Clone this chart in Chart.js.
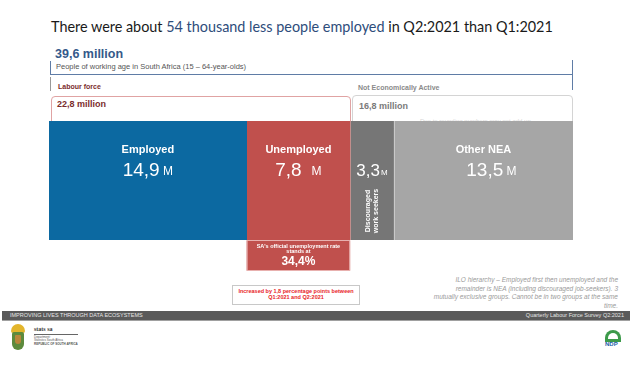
<!DOCTYPE html>
<html>
<head>
<meta charset="utf-8">
<script src="https://cdn.jsdelivr.net/npm/chart.js@4.4.1/dist/chart.umd.min.js"></script>
<style>
  html, body { margin: 0; padding: 0; background: #fff; }
  #slide { position: relative; width: 632px; height: 372px; overflow: hidden; font-family: "Liberation Sans", Arial, sans-serif; }
  #slide div { position: absolute; white-space: nowrap; }
  #chart { position: absolute; left: 0; top: 0; z-index: 5; pointer-events: none; }
  .ln { background: #5f7ca6; }
</style>
</head>
<body>
<div id="slide">
  <div style="left:51px;top:19px;font:14.4px Lato, sans-serif;line-height:16px;color:#1a1a1a;">There were about <span style="color:#2e4d7b">54 thousand less people employed</span> in Q2:2021 than Q1:2021</div>

  <div id="totalLabel" style="left:55px;top:47px;font:bold 12.5px 'Liberation Sans';line-height:14px;color:#35598a;"></div>
  <div style="left:56px;top:62px;font:7.5px 'Liberation Sans';line-height:9px;color:#555;">People of working age in South Africa (15 – 64-year-olds)</div>

  <div class="ln" style="left:50px;top:61px;width:1px;height:14px;"></div>
  <div class="ln" style="left:50px;top:74px;width:523px;height:1px;"></div>
  <div class="ln" style="left:572px;top:60px;width:1px;height:30px;"></div>
  <div style="left:50px;top:77px;width:1px;height:14px;background:#999;"></div>

  <div style="left:58px;top:82px;font:bold 7px 'Liberation Sans';line-height:9px;color:#7b2c2c;">Labour force</div>
  <div style="left:358px;top:83px;font:bold 7px 'Liberation Sans';line-height:9px;color:#8a8a8a;">Not Economically Active</div>

  <div style="left:51px;top:96px;width:298px;height:32px;border:1px solid #e0a3a3;border-radius:4px;"></div>
  <div style="left:352px;top:95px;width:219px;height:32px;border:1px solid #d4d4d4;border-radius:4px;"></div>
  <div id="lfLabel" style="left:57px;top:99px;font:bold 9px 'Liberation Sans';line-height:11px;color:#7b2c2c;"></div>
  <div id="neaLabel" style="left:359px;top:101px;font:bold 9px 'Liberation Sans';line-height:11px;color:#7a7a7a;"></div>
  <div style="left:420px;top:117px;font:6px 'Liberation Sans';line-height:8px;color:#d6d6d6;">Due to rounding numbers may not add up</div>

  <div id="changeBox" style="left:232px;top:285px;width:126px;height:16px;border:1px solid #c8c8c8;text-align:center;font:bold 5.5px 'Liberation Sans';line-height:6px;color:#e8231f;padding-top:2px;"></div>

  <div style="right:14px;top:276px;text-align:right;font:italic 6.5px 'Liberation Sans';line-height:8.6px;color:#9a9a9a;">ILO hierarchy – Employed first then unemployed and the<br>remainder is NEA (including discouraged job-seekers). 3<br>mutually exclusive groups. Cannot be in two groups at the same<br>time.</div>

  <div style="left:2px;top:311px;width:628px;height:9px;background:#5a5a5a;border-bottom:1px solid #a0a0a0;"></div>
  <div style="left:10px;top:311px;font:5.5px 'Liberation Sans';line-height:9px;color:#e6e6e6;">IMPROVING LIVES THROUGH DATA ECOSYSTEMS</div>
  <div style="right:8px;top:311px;font:5.5px 'Liberation Sans';line-height:9px;color:#e6e6e6;">Quarterly Labour Force Survey Q2:2021</div>

  <div style="left:11px;top:324px;width:14px;height:9px;border-radius:7px 7px 2px 2px;background:#e3b52c;"></div>
  <div style="left:12px;top:332px;width:12px;height:18px;border-radius:2px 2px 6px 6px;background:#5d8a3c;"></div>
  <div style="left:15px;top:335px;width:6px;height:9px;border-radius:1px 1px 3px 3px;background:#b8863b;"></div>
  <div style="left:34px;top:326px;font:bold 6px 'Liberation Serif';line-height:7px;color:#333;">stats sa</div>
  <div style="left:34px;top:334px;width:44px;height:1px;background:#666;"></div>
  <div style="left:34px;top:336px;font:3px 'Liberation Sans';line-height:3.4px;color:#555;">Department:<br>Statistics South Africa<br><b>REPUBLIC OF SOUTH AFRICA</b></div>

  <div style="left:605px;top:330px;width:16px;height:12px;border-radius:8px 8px 0 0;background:#3c9a4a;"></div>
  <div style="left:608px;top:333px;width:10px;height:6px;border-radius:5px 5px 0 0;background:#fff;"></div>
  <div style="left:605px;top:341px;font:bold 6px 'Liberation Sans';line-height:7px;color:#1b5ea8;">NDP</div>

  <canvas id="chart" width="632" height="372"></canvas>
</div>
<script>
// Q2:2021 labour market, millions
const categories = ['Employed', 'Unemployed', 'Discouraged work seekers', 'Other NEA'];
const valuesM = [14.9, 7.8, 3.3, 13.5];
const workingAgeM = 39.6;
const labourForceM = 22.8;
const neaM = 16.8;
const unemploymentRate = 34.4;
const rateChangePts = 1.8;
const quarters = ['Q1:2021', 'Q2:2021'];

const barColors = ['#0c69a1', '#c0504d', '#767676', '#a6a6a6'];

function fmt(v) {
  return v.toFixed(1).replace('.', ',');
}

document.getElementById('totalLabel').textContent = fmt(workingAgeM) + ' million';
document.getElementById('lfLabel').textContent = fmt(labourForceM) + ' million';
document.getElementById('neaLabel').textContent = fmt(neaM) + ' million';
document.getElementById('changeBox').innerHTML =
  `Increased by ${fmt(rateChangePts)} percentage points between<br>${quarters[0]} and ${quarters[1]}`;

const barLabels = {
  id: 'barLabels',
  afterDatasetsDraw(chart) {
    const ctx = chart.ctx;
    ctx.save();
    ctx.fillStyle = '#fff';
    ctx.textBaseline = 'middle';
    chart.data.datasets.forEach((ds, i) => {
      const el = chart.getDatasetMeta(i).data[0];
      const p = el.getProps(['x', 'base', 'y', 'height'], true);
      const cx = (p.x + p.base) / 2;
      const top = p.y - p.height / 2;
      const val = fmt(ds.data[0]);
      if (i === 2) {
        // narrow bar: value plus rotated name
        ctx.font = '17px "Liberation Sans"';
        const w1 = ctx.measureText(val).width;
        ctx.font = '8px "Liberation Sans"';
        const w2 = ctx.measureText('M').width;
        let x0 = cx - (w1 + w2 + 1) / 2;
        ctx.textAlign = 'left';
        ctx.font = '17px "Liberation Sans"';
        ctx.fillText(val, x0, top + 50);
        ctx.font = '8px "Liberation Sans"';
        ctx.fillText('M', x0 + w1 + 1, top + 52);
        ctx.translate(cx, top + 90);
        ctx.rotate(-Math.PI / 2);
        ctx.textAlign = 'center';
        ctx.font = 'bold 7px "Liberation Sans"';
        ctx.fillText('Discouraged', 0, -4);
        ctx.fillText('work seekers', 0, 4);
        ctx.setTransform(1, 0, 0, 1, 0, 0);
        return;
      }
      ctx.textAlign = 'center';
      ctx.font = 'bold 11px "Liberation Sans"';
      ctx.fillText(ds.label, cx, top + 29);
      const gap = i === 1 ? '   ' : ' ';
      ctx.font = '19px "Liberation Sans"';
      const w1 = ctx.measureText(val).width;
      ctx.font = '12px "Liberation Sans"';
      const w2 = ctx.measureText(gap + 'M').width;
      const x0 = cx + (i === 3 ? 8 : 0) - (w1 + w2) / 2;
      ctx.textAlign = 'left';
      ctx.font = '19px "Liberation Sans"';
      ctx.fillText(val, x0, top + 50);
      ctx.font = '12px "Liberation Sans"';
      ctx.fillText(gap + 'M', x0 + w1, top + 51);
    });

    // unemployment rate box hanging under the Unemployed bar
    const u = chart.getDatasetMeta(1).data[0].getProps(['x', 'base', 'y', 'height'], true);
    const bx = u.base, bw = u.x - u.base, by = u.y + u.height / 2;
    ctx.fillStyle = barColors[1];
    ctx.fillRect(bx, by + 0.5, bw, 30);
    ctx.strokeStyle = '#e8b0ae';
    ctx.lineWidth = 1;
    ctx.strokeRect(bx + 0.5, by + 0.5, bw - 1, 30);
    ctx.fillStyle = '#fff';
    ctx.textAlign = 'center';
    ctx.font = 'bold 5.5px "Liberation Sans"';
    const ux = bx + bw / 2;
    ctx.fillText("SA's official unemployment rate", ux, by + 6);
    ctx.fillText('stands at', ux, by + 11.5);
    ctx.font = 'bold 12px "Liberation Sans"';
    ctx.fillText(fmt(unemploymentRate) + '%', ux, by + 22);
    ctx.restore();
  }
};

window.addEventListener('DOMContentLoaded', () => {
  const total = valuesM.reduce((a, b) => a + b, 0);
  const ctx = document.getElementById('chart').getContext('2d');
  new Chart(ctx, {
    type: 'bar',
    data: {
      labels: ['Working age'],
      datasets: categories.map((c, i) => ({
        label: c,
        data: [valuesM[i]],
        backgroundColor: barColors[i],
        borderColor: i === 3 ? '#e4e4e4' : '#d9d9d9',
        borderWidth: i >= 2 ? { left: 1 } : 0,
        borderSkipped: false,
        barPercentage: 1,
        categoryPercentage: 1
      }))
    },
    options: {
      indexAxis: 'y',
      responsive: false,
      animation: false,
      layout: { padding: { left: 49, right: 59, top: 121, bottom: 132 } },
      plugins: { legend: { display: false }, tooltip: { enabled: false } },
      scales: {
        x: { stacked: true, min: 0, max: total, display: false },
        y: { stacked: true, display: false }
      }
    },
    plugins: [barLabels]
  });
});
</script>
</body>
</html>
